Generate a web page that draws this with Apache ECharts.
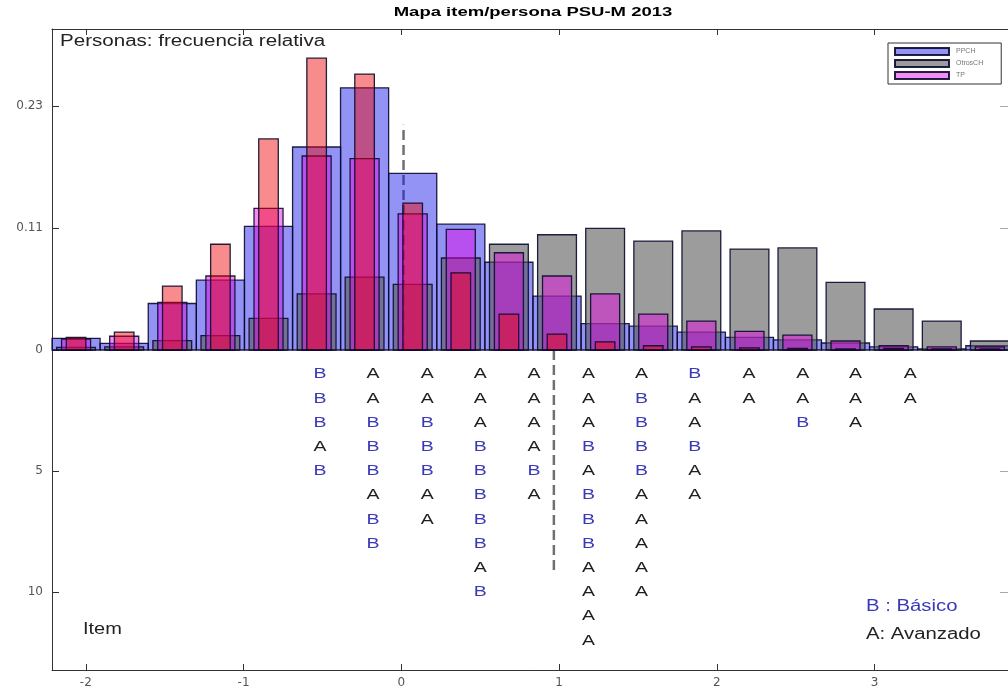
<!DOCTYPE html>
<html>
<head>
<meta charset="utf-8">
<script src="https://cdn.jsdelivr.net/npm/echarts@6/dist/echarts.min.js"></script>
<style>
html,body{margin:0;padding:0;background:#fff;}
#chart{width:1008px;height:689px;}
</style>
</head>
<body>
<div id="chart"></div>
<script>
// ---------------- data ----------------
const binCenters = [-2.062, -1.757, -1.452, -1.147, -0.842, -0.537, -0.233, 0.072, 0.377, 0.682,
                    0.987, 1.292, 1.597, 1.902, 2.207, 2.511, 2.816, 3.121, 3.426, 3.731];
const ppch      = [0.011, 0.0063, 0.044, 0.066, 0.117, 0.192, 0.248, 0.167, 0.119, 0.083,
                   0.051, 0.025, 0.0225, 0.017, 0.012, 0.0095, 0.0066, 0.003, 0.001, 0.004];
const otrosCH   = [0.0025, 0.003, 0.0088, 0.0136, 0.030, 0.053, 0.069, 0.062, 0.087, 0.100,
                   0.109, 0.115, 0.103, 0.1126, 0.0955, 0.0965, 0.064, 0.0388, 0.0274, 0.0085];
const tp        = [0.0104, 0.013, 0.045, 0.070, 0.134, 0.1835, 0.181, 0.1287, 0.114, 0.092,
                   0.070, 0.053, 0.034, 0.0274, 0.0177, 0.014, 0.0085, 0.004, 0.003, 0.003];
const grupoRojo = [0.012, 0.017, 0.0605, 0.100, 0.1996, 0.276, 0.261, 0.139, 0.073, 0.034,
                   0.015, 0.0076, 0.004, 0.003, 0.002, 0.0015, 0.001, 0.0015, 0.001, 0.001];

const xTickValues = [-2, -1, 0, 1, 2, 3];
const personTickValues = [0, 0.1154, 0.2308];
const personTickLabels = ['0', '0.11', '0.23'];
const itemTickValues = [5, 10];
const itemTickLabels = ['5', '10'];

// item map: column positions (logit) and letters top to bottom
const itemColumnsX = [-0.516, -0.180, 0.164, 0.500, 0.841, 1.186, 1.523, 1.860, 2.204, 2.545, 2.880, 3.227];
const itemColumns  = ['BBBAB', 'AABBBABB', 'AABBBAA', 'AAABBBBBAB', 'AAAABA', 'AAABABBBAAAA',
                      'ABBBBAAAAA', 'BAABAA', 'AA', 'AAB', 'AAA', 'AA'];

const personMeanX = 0.014, personMeanTop = 0.213;
const itemMeanX = 0.967, itemMeanBottom = 9.3;

// ---------------- layout / style ----------------
const X_MIN = -2.2146, X_MAX = 3.846;
const P_MAX = 0.3036, I_MAX = 13.223;
const EDGE = 'rgba(10,10,45,0.9)';
const FONT = '"Liberation Sans", Arial, Helvetica, sans-serif';

const itemMarks = [];
itemColumns.forEach((col, ci) => {
  col.split('').forEach((letter, ri) => {
    itemMarks.push({ x: itemColumnsX[ci], row: ri + 1, letter: letter });
  });
});

function barRenderer(width, fill) {
  return function (params, api) {
    const x = api.value(0), v = api.value(1);
    const p0 = api.coord([x - width / 2, v]);
    const p1 = api.coord([x + width / 2, 0]);
    return {
      type: 'rect',
      shape: { x: p0[0], y: p0[1], width: p1[0] - p0[0], height: p1[1] - p0[1] },
      style: { fill: fill, stroke: EDGE, lineWidth: 1.3 }
    };
  };
}
function pairs(vals) { return binCenters.map((c, i) => [c, vals[i]]); }
function lookupLabel(values, labels) {
  return function (v) {
    let best = -1, bd = 1e9;
    values.forEach((t, i) => { const d = Math.abs(t - v); if (d < bd) { bd = d; best = i; } });
    return bd < 1e-6 ? labels[best] : '';
  };
}

const C_BLUE = 'rgba(20,20,235,0.46)';
const C_GRAY = 'rgba(90,90,90,0.6)';
const C_MAG  = 'rgba(230,0,230,0.45)';
const C_RED  = 'rgba(240,0,0,0.45)';

const axisLineStyle = { color: '#333', width: 1 };
const tickLabelStyle = { color: '#555', fontSize: 12, fontFamily: 'DejaVu Sans' };

const chart = echarts.init(document.getElementById('chart'), null, { renderer: 'canvas' });
chart.setOption({
  animation: false,
  backgroundColor: '#fff',
  grid: [
    { left: 52, top: 29, width: 960, height: 321 },
    { left: 52, top: 350, width: 960, height: 320 }
  ],
  xAxis: [
    { gridIndex: 0, type: 'value', min: X_MIN, max: X_MAX, position: 'top',
      axisLine: { show: true, onZero: false, lineStyle: axisLineStyle },
      axisTick: { show: true, inside: true, length: 6, customValues: xTickValues, lineStyle: axisLineStyle },
      axisLabel: { show: false }, splitLine: { show: false } },
    { gridIndex: 1, type: 'value', min: X_MIN, max: X_MAX, position: 'bottom',
      axisLine: { show: true, onZero: false, lineStyle: axisLineStyle },
      axisTick: { show: true, inside: true, length: 6, customValues: xTickValues, lineStyle: axisLineStyle },
      axisLabel: Object.assign({ customValues: xTickValues, margin: 7 }, tickLabelStyle),
      splitLine: { show: false } }
  ],
  yAxis: [
    { gridIndex: 0, type: 'value', min: 0, max: P_MAX, position: 'left',
      axisLine: { show: true, onZero: false, lineStyle: axisLineStyle },
      axisTick: { show: true, inside: true, length: 7, customValues: personTickValues, lineStyle: axisLineStyle },
      axisLabel: Object.assign({ customValues: personTickValues, margin: 9,
        formatter: lookupLabel(personTickValues, personTickLabels) }, tickLabelStyle),
      splitLine: { show: false } },
    { gridIndex: 0, type: 'value', min: 0, max: P_MAX, position: 'right',
      axisLine: { show: true, onZero: false, lineStyle: { color: '#999' } },
      axisTick: { show: true, inside: true, length: 8, customValues: personTickValues, lineStyle: { color: '#aaa' } },
      axisLabel: { show: false }, splitLine: { show: false } },
    { gridIndex: 1, type: 'value', min: 0, max: I_MAX, inverse: true, position: 'left',
      axisLine: { show: true, onZero: false, lineStyle: axisLineStyle },
      axisTick: { show: true, inside: true, length: 7, customValues: itemTickValues, lineStyle: axisLineStyle },
      axisLabel: Object.assign({ customValues: itemTickValues, margin: 9,
        formatter: lookupLabel(itemTickValues, itemTickLabels) }, tickLabelStyle),
      splitLine: { show: false } },
    { gridIndex: 1, type: 'value', min: 0, max: I_MAX, inverse: true, position: 'right',
      axisLine: { show: true, onZero: false, lineStyle: { color: '#999' } },
      axisTick: { show: true, inside: true, length: 8, customValues: itemTickValues, lineStyle: { color: '#aaa' } },
      axisLabel: { show: false }, splitLine: { show: false } }
  ],
  legend: {
    data: ['PPCH', 'OtrosCH', 'TP'],
    orient: 'vertical', left: 888, top: 43,
    icon: 'rect', itemWidth: 54, itemHeight: 7, itemGap: 3,
    padding: [4, 18, 4, 6],
    backgroundColor: '#fff', borderColor: '#333', borderWidth: 1, borderRadius: 0,
    textStyle: { fontSize: 7, color: '#777', fontFamily: FONT, padding: [0, 0, 0, 2] },
    selectedMode: false
  },
  graphic: [
    { type: 'text', x: 533, y: 13, scaleX: 1.48, z: 100,
      style: { text: 'Mapa item/persona PSU-M 2013', font: 'bold 12.5px ' + FONT, fill: '#000',
               align: 'center', verticalAlign: 'middle' } },
    { type: 'text', x: 60, y: 42, scaleX: 1.285, z: 100,
      style: { text: 'Personas: frecuencia relativa', font: '16px ' + FONT, fill: '#222',
               align: 'left', verticalAlign: 'middle' } },
    { type: 'text', x: 83, y: 630, scaleX: 1.25, z: 100,
      style: { text: 'Item', font: '16px ' + FONT, fill: '#222', align: 'left', verticalAlign: 'middle' } },
    { type: 'text', x: 866, y: 607, scaleX: 1.27, z: 100,
      style: { text: 'B : Básico', font: '16px ' + FONT, fill: '#3a3ab8', align: 'left', verticalAlign: 'middle' } },
    { type: 'text', x: 866, y: 635, scaleX: 1.27, z: 100,
      style: { text: 'A: Avanzado', font: '16px ' + FONT, fill: '#222', align: 'left', verticalAlign: 'middle' } }
  ],
  series: [
    { name: 'media personas', type: 'line', xAxisIndex: 0, yAxisIndex: 0, z: 1, silent: true,
      symbol: 'none', data: [[personMeanX, 0], [personMeanX, personMeanTop]],
      lineStyle: { color: '#707070', width: 2.5, type: [10, 5] } },
    { name: 'media ítems', type: 'line', xAxisIndex: 1, yAxisIndex: 2, z: 1, silent: true,
      symbol: 'none', data: [[itemMeanX, 0], [itemMeanX, itemMeanBottom]],
      lineStyle: { color: '#707070', width: 2.5, type: [10, 5] } },
    { name: 'PPCH', type: 'custom', xAxisIndex: 0, yAxisIndex: 0, z: 2,
      itemStyle: { color: C_BLUE, borderColor: EDGE, borderWidth: 1 },
      renderItem: barRenderer(0.3049, C_BLUE), data: pairs(ppch) },
    { name: 'OtrosCH', type: 'custom', xAxisIndex: 0, yAxisIndex: 0, z: 3,
      itemStyle: { color: C_GRAY, borderColor: EDGE, borderWidth: 1 },
      renderItem: barRenderer(0.246, C_GRAY), data: pairs(otrosCH) },
    { name: 'TP', type: 'custom', xAxisIndex: 0, yAxisIndex: 0, z: 4,
      itemStyle: { color: C_MAG, borderColor: EDGE, borderWidth: 1 },
      renderItem: barRenderer(0.184, C_MAG), data: pairs(tp) },
    { name: 'Grupo rojo', type: 'custom', xAxisIndex: 0, yAxisIndex: 0, z: 5,
      itemStyle: { color: C_RED, borderColor: EDGE, borderWidth: 1 },
      renderItem: barRenderer(0.124, C_RED), data: pairs(grupoRojo) },
    { name: 'Ítems', type: 'custom', xAxisIndex: 1, yAxisIndex: 2, z: 6, silent: true,
      data: itemMarks.map(m => [m.x, m.row]),
      renderItem: function (params, api) {
        const p = api.coord([api.value(0), api.value(1)]);
        const m = itemMarks[params.dataIndex];
        return {
          type: 'text', x: p[0], y: p[1], scaleX: 1.3,
          style: { text: m.letter, fill: m.letter === 'B' ? '#3a3ab8' : '#1e1e1e',
                   font: '15px ' + FONT, align: 'center', verticalAlign: 'middle' }
        };
      } }
  ]
});
</script>
</body>
</html>
